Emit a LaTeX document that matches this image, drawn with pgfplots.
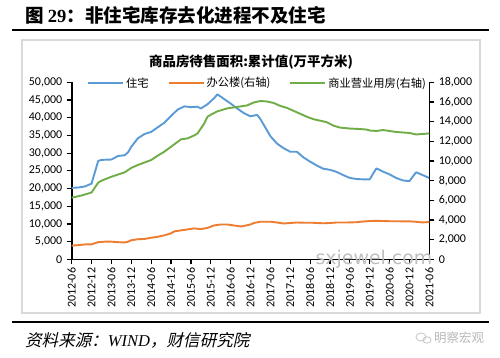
\documentclass[border=0pt]{standalone}
\usepackage{pgfplots}
\pgfplotsset{compat=1.18}
\usepackage{fontspec}
\setmainfont{Carlito}
\newfontfamily\cjk{Noto Sans CJK SC}
\newfontfamily\cjkit{Noto Sans CJK SC}[FakeSlant=0.22]
\newfontfamily\serif{Liberation Serif}
\newfontfamily\wm{DejaVu Sans}
\definecolor{cblue}{RGB}{91,155,213}
\definecolor{corange}{RGB}{237,125,49}
\definecolor{cgreen}{RGB}{112,173,71}
\pgfplotsset{
  myaxis/.style={
    scale only axis, width=357.6bp, height=177.1bp,
    at={(71.7bp,98.6bp)}, anchor=south west,
    xmin=0, xmax=108,
    tick align=outside, major tick length=5bp,
    tick style={black,line width=1.2bp},
    axis line style={black,line width=1.6bp},
    /pgf/number format/assume math mode=true,
    /pgf/number format/fixed,
    /pgf/number format/1000 sep={,},
    scaled y ticks=false,
  },
}
\begin{document}
\begin{tikzpicture}
\useasboundingbox (0bp,0bp) rectangle (500bp,358bp);
\fill[white] (0bp,0bp) rectangle (500bp,358bp);
% header
\node[anchor=west,inner sep=0] at (25bp,343bp) {\cjk\bfseries\fontsize{18.6}{19}\selectfont 图 {\serif\bfseries 29}：非住宅库存去化进程不及住宅};
\draw[black,line width=2.2bp] (12bp,328bp) -- (489bp,328bp);
\draw[black,line width=2.2bp] (12bp,36bp) -- (489bp,36bp);
\node[anchor=west,inner sep=0] at (25bp,18bp) {\cjkit\fontsize{16.6}{17}\selectfont 资料来源：{\serif\itshape WIND}，财信研究院};
\node[anchor=west,inner sep=0,text=gray!55] at (434bp,20bp) {\cjk\fontsize{12.5}{13}\selectfont 明察宏观};
\draw[gray!45,line width=0.8bp] (421bp,21bp) ellipse (5bp and 4bp);
\draw[gray!45,line width=0.8bp] (427bp,18bp) ellipse (4bp and 3.2bp);
% frame
\draw[gray!30,line width=1.3bp] (22bp,45bp) rectangle (480bp,318bp);
\node[inner sep=0] at (251bp,296bp) {\cjk\bfseries\fontsize{13.5}{14}\selectfont 商品房待售面积:累计值(万平方米)};
\begin{axis}[myaxis,
  axis y line*=left, axis x line*=bottom,
  ymin=0, ymax=50000, ytick={0,5000,...,50000},
  yticklabel style={font=\fontsize{12}{12}\selectfont, xshift=-1bp},
  xtick={0,6,...,108},
  xticklabels={2012-06,2012-12,2013-06,2013-12,2014-06,2014-12,2015-06,2015-12,2016-06,2016-12,2017-06,2017-12,2018-06,2018-12,2019-06,2019-12,2020-06,2020-12,2021-06},
  xticklabel style={rotate=90, anchor=east, font=\fontsize{12}{12}\selectfont},
]
\addplot[cblue, line width=1.9bp, line join=round] coordinates {
(0,20200)(2,20300)(4,20600)(6,21400)(8,27800)(9,28100)(12,28200)(14,29200)(16,29400)(17,30200)(18,31800)(20,34200)(22,35400)(24,36000)(26,37300)(28,38600)(30,40500)(32,42300)(34,43200)(36,43000)(38,43100)(39,42600)(41,43800)(43,45500)(44,46600)(46,45300)(48,44000)(50,42600)(52,41300)(54,40400)(56,40800)(57,39600)(60,34800)(62,32700)(64,31400)(66,30400)(68,30400)(70,28800)(72,27600)(74,26500)(76,25600)(78,25300)(80,24700)(82,23800)(84,23000)(86,22700)(88,22600)(90,22600)(92,25700)(94,24800)(96,24000)(98,23000)(100,22300)(102,22100)(104,24600)(106,23800)(108,23000)
};
\end{axis}
\begin{axis}[myaxis,
  axis y line*=right, axis x line=none,
  ymin=0, ymax=18000, ytick={0,2000,...,18000},
  yticklabel style={font=\fontsize{12}{12}\selectfont, xshift=1bp},
  legend columns=3,
  legend style={at={(rel axis cs:0.52,0.996)}, anchor=center, draw=none, fill=none,
    font=\cjk\fontsize{11.3}{12}\selectfont,
    /tikz/every even column/.append style={column sep=17bp}},
  legend image code/.code={\draw[#1, line width=1.9bp] (0bp,0bp) -- (35bp,0bp);},
]
\addlegendimage{cblue}
\addlegendentry{住宅}
\addplot[corange, line width=1.9bp, line join=round] coordinates {
(0,1400)(2,1450)(4,1520)(6,1530)(8,1750)(10,1800)(12,1800)(14,1750)(16,1720)(17,1800)(18,1950)(20,2050)(22,2080)(24,2200)(26,2300)(28,2450)(30,2650)(31,2850)(33,2950)(35,3050)(37,3150)(39,3080)(41,3200)(43,3450)(45,3550)(47,3550)(49,3450)(51,3350)(52,3400)(54,3550)(55,3700)(57,3830)(60,3830)(62,3750)(64,3650)(66,3700)(68,3750)(70,3730)(73,3720)(76,3670)(78,3700)(80,3750)(83,3750)(86,3780)(88,3850)(90,3900)(92,3920)(96,3880)(100,3870)(102,3870)(104,3820)(106,3760)(108,3800)
};
\addlegendentry{办公楼(右轴)}
\addplot[cgreen, line width=1.9bp, line join=round] coordinates {
(0,6270)(3,6500)(6,6800)(8,7800)(9,8000)(12,8400)(16,8850)(18,9300)(20,9600)(22,9850)(24,10100)(26,10550)(28,10950)(30,11450)(31,11700)(33,12200)(35,12300)(37,12600)(38,12800)(40,13800)(41,14500)(42,14700)(44,15050)(47,15350)(50,15500)(53,15650)(55,15950)(57,16100)(59,16050)(61,15900)(63,15600)(65,15400)(67,15100)(69,14800)(71,14500)(73,14250)(75,14100)(77,13950)(79,13600)(81,13400)(84,13300)(87,13250)(89,13200)(90,13100)(92,13050)(94,13150)(96,13050)(98,12950)(100,12900)(102,12850)(104,12700)(106,12750)(108,12800)
};
\addlegendentry{商业营业用房(右轴)}
\end{axis}
\node[text=gray!50, inner sep=0] at (374bp,99bp) {\wm\fontsize{19}{19}\selectfont sxjewel.com};
\end{tikzpicture}
\end{document}
